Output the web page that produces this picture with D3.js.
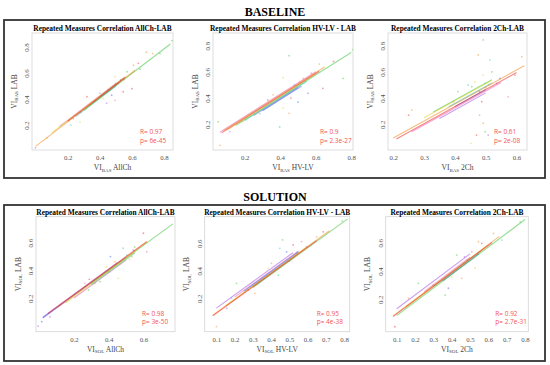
<!DOCTYPE html>
<html>
<head>
<meta charset="utf-8">
<script src="https://cdn.jsdelivr.net/npm/d3@7"></script>
<style>
  body { margin: 0; background: #fff; }
</style>
</head>
<body>
<div id="chart"></div>
<script>
// svg container
var svgWidth = 550;
var svgHeight = 365;

// ---------------- data ----------------
var sections = ["BASELINE", "SOLUTION"];
var titles = [
  "Repeated Measures Correlation AllCh-LAB",
  "Repeated Measures Correlation HV-LV - LAB",
  "Repeated Measures Correlation 2Ch-LAB",
  "Repeated Measures Correlation AllCh-LAB",
  "Repeated Measures Correlation HV-LV - LAB",
  "Repeated Measures Correlation 2Ch-LAB"
];
var methods = ["AllCh", "HV-LV", "2Ch", "AllCh", "HV-LV", "2Ch"];
var subscripts = ["BAS", "BAS", "BAS", "SOL", "SOL", "SOL"];
var rValues = ["0.97", "0.9", "0.61", "0.98", "0.95", "0.92"];
var pValues = ["6e-45", "2.3e-27", "2e-08", "3e-50", "4e-38", "2.7e-31"];

// common slope of the repeated measures fit
var slopes = [0.945, 0.855, 1.3, 0.91, 0.96, 0.97];

var xTicks = [
  [0.2, 0.4, 0.6, 0.8],
  [0.2, 0.4, 0.6, 0.8],
  [0.2, 0.3, 0.4, 0.5, 0.6],
  [0.2, 0.4, 0.6],
  [0.1, 0.2, 0.3, 0.4, 0.5, 0.6, 0.7, 0.8],
  [0.1, 0.2, 0.3, 0.4, 0.5, 0.6, 0.7, 0.8]
];
var yTicks = [
  [0.2, 0.4, 0.6, 0.8],
  [0.2, 0.4, 0.6, 0.8],
  [0.2, 0.4, 0.6, 0.8],
  [0.2, 0.4, 0.6],
  [0.2, 0.4, 0.6],
  [0.2, 0.4, 0.6]
];
// axis limits
var xDomains = [[-0.022, 0.856], [0.021, 0.81], [0.183, 0.634], [-0.019, 0.782], [0.036, 0.831], [0.04, 0.818]];
var yDomains = [[0.008, 0.908], [0.004, 0.897], [0.004, 0.897], [-0.04, 0.787], [-0.043, 0.793], [-0.029, 0.784]];

// per subject fitted lines: [x from, x to, intercept], subject = index
var basAllChLines = [[0.20, 0.56, 0.040], [0.00, 0.62, 0.036], [0.10, 0.55, 0.045], [0.30, 0.84, 0.030],
                     [0.25, 0.50, 0.028], [0.35, 0.52, 0.034], [0.40, 0.55, 0.040], [0.15, 0.50, 0.048]];
var basHvLvLines  = [[0.07, 0.62, 0.075], [0.08, 0.65, 0.082], [0.10, 0.60, 0.070], [0.15, 0.80, 0.064],
                     [0.20, 0.55, 0.058], [0.30, 0.52, 0.047], [0.25, 0.50, 0.053], [0.06, 0.60, 0.088]];
var bas2ChLines   = [[0.21, 0.60, -0.185], [0.20, 0.625, -0.165], [0.30, 0.52, -0.140], [0.33, 0.52, -0.135],
                     [0.38, 0.52, -0.160], [0.40, 0.50, -0.185], [0.35, 0.50, -0.210], [0.26, 0.55, -0.195]];
var solAllChLines = [[0.05, 0.62, 0.045], [0.10, 0.62, 0.040], [0.15, 0.55, 0.030], [0.30, 0.77, 0.035],
                     [0.30, 0.55, 0.025], [0.02, 0.50, 0.040], [0.02, 0.45, 0.046], [0.20, 0.50, 0.020]];
var solHvLvLines  = [[0.08, 0.65, -0.005], [0.08, 0.72, 0.000], [0.15, 0.60, 0.000], [0.30, 0.82, -0.010],
                     [0.30, 0.55, 0.000], [0.25, 0.55, 0.010], [0.10, 0.52, 0.032], [0.20, 0.55, 0.016]];
var sol2ChLines   = [[0.08, 0.62, 0.000], [0.08, 0.66, 0.005], [0.15, 0.60, 0.000], [0.10, 0.80, -0.012],
                     [0.30, 0.56, 0.000], [0.35, 0.55, -0.010], [0.10, 0.50, 0.036], [0.25, 0.50, 0.012]];

// observations: [x, y, subject]
var basAllChPoints = [[0.64,0.675,0],[0.69,0.76,1],[0.775,0.75,3],[0.85,0.85,3],[0.495,0.57,2],[0.61,0.66,1],
  [0.46,0.47,4],[0.546,0.456,0],[0.474,0.43,5],[0.443,0.367,6],[0.495,0.39,7],[0.32,0.418,0],[0.34,0.354,1],
  [0.235,0.25,3],[0.277,0.225,2],[0.22,0.2,4],[0.57,0.61,3],[0.53,0.546,5],[0.60,0.48,0],[0.42,0.405,2],
  [0.07,0.10,1],[0.0,0.025,6],[0.73,0.75,1],[0.37,0.385,7],[0.40,0.445,4],[0.5,0.52,3],[0.45,0.46,2],
  [0.55,0.55,6],[0.28,0.30,5],[0.65,0.63,3]];
var basHvLvPoints = [[0.45,0.724,3],[0.416,0.556,2],[0.45,0.284,1],[0.397,0.18,3],[0.05,0.22,3],[0.06,0.04,1],
  [0.81,0.77,3],[0.754,0.55,3],[0.70,0.68,0],[0.62,0.66,1],[0.575,0.59,7],[0.51,0.525,2],[0.46,0.40,0],
  [0.50,0.37,5],[0.33,0.385,0],[0.36,0.425,1],[0.285,0.28,4],[0.19,0.22,2],[0.115,0.145,7],[0.64,0.475,0],
  [0.557,0.437,6],[0.416,0.324,2],[0.48,0.5,4],[0.53,0.55,1]];
var bas2ChPoints = [[0.492,0.844,3],[0.476,0.73,1],[0.492,0.576,2],[0.498,0.513,4],[0.48,0.45,5],[0.487,0.373,0],
  [0.48,0.27,7],[0.492,0.208,1],[0.498,0.144,3],[0.452,0.055,2],[0.514,0.69,4],[0.52,0.60,3],[0.595,0.576,0],
  [0.573,0.41,7],[0.617,0.716,1],[0.25,0.27,0],[0.26,0.31,1],[0.41,0.45,3],[0.536,0.513,6],[0.546,0.55,5],
  [0.465,0.525,2],[0.455,0.487,3],[0.443,0.50,4],[0.395,0.372,7],[0.508,0.118,6],[0.47,0.118,0],[0.50,0.48,1],
  [0.51,0.50,2]];
var solAllChPoints = [[0.60,0.668,0],[0.619,0.535,7],[0.542,0.547,5],[0.504,0.51,4],[0.455,0.344,2],[0.41,0.50,5],
  [0.436,0.463,1],[0.388,0.427,2],[0.288,0.337,0],[0.263,0.308,7],[0.283,0.26,3],[0.32,0.308,1],[0.062,0.068,6],
  [-0.006,0.0,6],[0.014,0.032,5],[0.484,0.56,4],[0.55,0.57,3],[0.465,0.45,2],[0.533,0.50,1],[0.35,0.32,3],
  [0.52,0.48,2],[0.4,0.39,3]];
var solHvLvPoints = [[0.567,0.612,7],[0.521,0.588,0],[0.448,0.563,4],[0.463,0.624,3],[0.402,0.454,1],[0.44,0.369,3],
  [0.384,0.418,2],[0.311,0.236,1],[0.21,0.309,3],[0.10,-0.006,1],[0.65,0.647,1],[0.686,0.683,0],[0.79,0.763,3],
  [0.485,0.538,5],[0.54,0.526,2],[0.595,0.575,6],[0.357,0.345,2],[0.274,0.26,0],[0.184,0.20,4],[0.157,0.127,6],
  [0.5,0.47,4]];
var sol2ChPoints = [[0.428,0.513,3],[0.464,0.454,2],[0.51,0.536,7],[0.564,0.596,0],[0.546,0.607,1],[0.628,0.666,1],
  [0.674,0.619,4],[0.40,0.36,2],[0.455,0.348,1],[0.382,0.278,5],[0.364,0.23,3],[0.218,0.313,3],[0.164,0.207,1],
  [0.09,0.006,0],[0.774,0.748,3],[0.483,0.478,4],[0.528,0.42,2],[0.47,0.5,6],[0.3,0.3,0]];

var allLines = [basAllChLines, basHvLvLines, bas2ChLines, solAllChLines, solHvLvLines, sol2ChLines];
var allPoints = [basAllChPoints, basHvLvPoints, bas2ChPoints, solAllChPoints, solHvLvPoints, sol2ChPoints];

// subject colours
var subjectColors = ["#ee2a2a", "#f28a1c", "#d6d42a", "#3cc43c", "#2ec8c8", "#3456ee", "#a052e0", "#f060b4"];

// ---------------- layout ----------------
// plot boxes [left, right, top, bottom]
var boxes = [
  [32, 173, 33, 150], [213, 353, 33, 150], [388, 527, 33, 150],
  [36, 175, 216.7, 331.7], [204.7, 349.7, 216.7, 331.7], [385.7, 528.3, 216.7, 331.7]
];
var xTitleShift = [10, 10, 0, 0, 0, 0];

var serif = "'Liberation Serif', 'DejaVu Serif', serif";

var svg = d3.select("#chart")
  .append("svg")
  .attr("width", svgWidth)
  .attr("height", svgHeight);

// section frames
[[20, 178], [205, 361]].forEach(function(f) {
  svg.append("rect")
    .attr("x", 4).attr("y", f[0])
    .attr("width", 541).attr("height", f[1] - f[0])
    .attr("fill", "none")
    .attr("stroke", "#333")
    .attr("stroke-width", 1.8);
});

// section headers
svg.selectAll(".section")
  .data(sections)
  .enter()
  .append("text")
  .attr("x", 275)
  .attr("y", (d, i) => i === 0 ? 16 : 200.5)
  .attr("text-anchor", "middle")
  .style("font-family", serif)
  .style("font-weight", "bold")
  .style("font-size", "12px")
  .text(d => d);

boxes.forEach(function(b, i) {
  var x = d3.scaleLinear().domain(xDomains[i]).range([b[0], b[1]]);
  var y = d3.scaleLinear().domain(yDomains[i]).range([b[3], b[2]]);
  var g = svg.append("g");
  var cx = (b[0] + b[1]) / 2;

  // plot box
  g.append("rect")
    .attr("x", b[0]).attr("y", b[2])
    .attr("width", b[1] - b[0]).attr("height", b[3] - b[2])
    .attr("fill", "none")
    .attr("stroke", "#d4d4d4")
    .attr("stroke-width", 0.8);

  // title
  g.append("text")
    .attr("x", cx)
    .attr("y", b[2] - 2)
    .attr("text-anchor", "middle")
    .style("font-family", serif)
    .style("font-weight", "bold")
    .style("font-size", "7.4px")
    .text(titles[i]);

  // points
  var clip = "clip" + i;
  g.append("clipPath").attr("id", clip)
    .append("rect")
    .attr("x", b[0]).attr("y", b[2])
    .attr("width", b[1] - b[0]).attr("height", b[3] - b[2]);

  var plot = g.append("g").attr("clip-path", "url(#" + clip + ")");

  plot.selectAll("circle")
    .data(allPoints[i])
    .enter()
    .append("circle")
    .attr("cx", d => x(d[0]))
    .attr("cy", d => y(d[1]))
    .attr("r", 0.9)
    .attr("fill", d => subjectColors[d[2]])
    .attr("opacity", 0.45);

  // subject lines, red drawn last so it sits on top
  var lineData = allLines[i].map((d, s) => ({ x0: d[0], x1: d[1], a: d[2], s: s })).reverse();
  plot.selectAll("line")
    .data(lineData)
    .enter()
    .append("line")
    .attr("x1", d => x(d.x0))
    .attr("x2", d => x(d.x1))
    .attr("y1", d => y(d.a + slopes[i] * d.x0))
    .attr("y2", d => y(d.a + slopes[i] * d.x1))
    .attr("stroke", d => subjectColors[d.s])
    .attr("stroke-width", 1.1)
    .attr("opacity", 0.55);

  // x axis
  var xAxis = g.append("g")
    .attr("transform", `translate(0, ${b[3]})`)
    .call(d3.axisBottom(x).tickValues(xTicks[i]).tickSize(0).tickPadding(5.2).tickFormat(d3.format(".1f")));
  xAxis.select(".domain").remove();
  xAxis.selectAll("text")
    .style("font-family", serif)
    .style("font-size", "6.8px")
    .attr("fill", "#555");

  // y axis, labels rotated like R
  var yAxis = g.append("g")
    .attr("transform", `translate(${b[0]}, 0)`)
    .call(d3.axisLeft(y).tickValues(yTicks[i]).tickSize(0).tickFormat(d3.format(".1f")));
  yAxis.select(".domain").remove();
  yAxis.selectAll("text")
    .attr("x", 0).attr("y", 0).attr("dy", null)
    .attr("text-anchor", "middle")
    .attr("transform", "translate(-3.2,0) rotate(-90)")
    .style("font-family", serif)
    .style("font-size", "6.8px")
    .attr("fill", "#555");

  // x axis title
  var xt = g.append("text")
    .attr("x", cx + xTitleShift[i])
    .attr("y", b[3] + 20)
    .attr("text-anchor", "middle")
    .style("font-family", serif)
    .style("font-size", "7.5px")
    .attr("fill", "#444");
  xt.append("tspan").text("VI");
  xt.append("tspan").attr("dy", 1.6).style("font-size", "5px").text(subscripts[i]);
  xt.append("tspan").attr("dy", -1.6).text(" " + methods[i]);

  // y axis title
  var yt = g.append("text")
    .attr("transform", `translate(${b[0] - 15.5}, ${(b[2] + b[3]) / 2}) rotate(-90)`)
    .attr("text-anchor", "middle")
    .style("font-family", serif)
    .style("font-size", "7.5px")
    .attr("fill", "#444");
  yt.append("tspan").text("VI");
  yt.append("tspan").attr("dy", 1.6).style("font-size", "5px").text(subscripts[i]);
  yt.append("tspan").attr("dy", -1.6).text(" LAB");

  // correlation stats
  var stats = g.append("text")
    .style("font-family", "'Open Sans', 'Liberation Sans', sans-serif")
    .style("font-size", "6.5px")
    .attr("fill", "#f25656");
  stats.append("tspan").attr("x", b[1] - 33).attr("y", b[3] - 15.7).text("R= " + rValues[i]);
  stats.append("tspan").attr("x", b[1] - 33).attr("y", b[3] - 7.3).text("p= " + pValues[i]);
});
</script>
</body>
</html>
